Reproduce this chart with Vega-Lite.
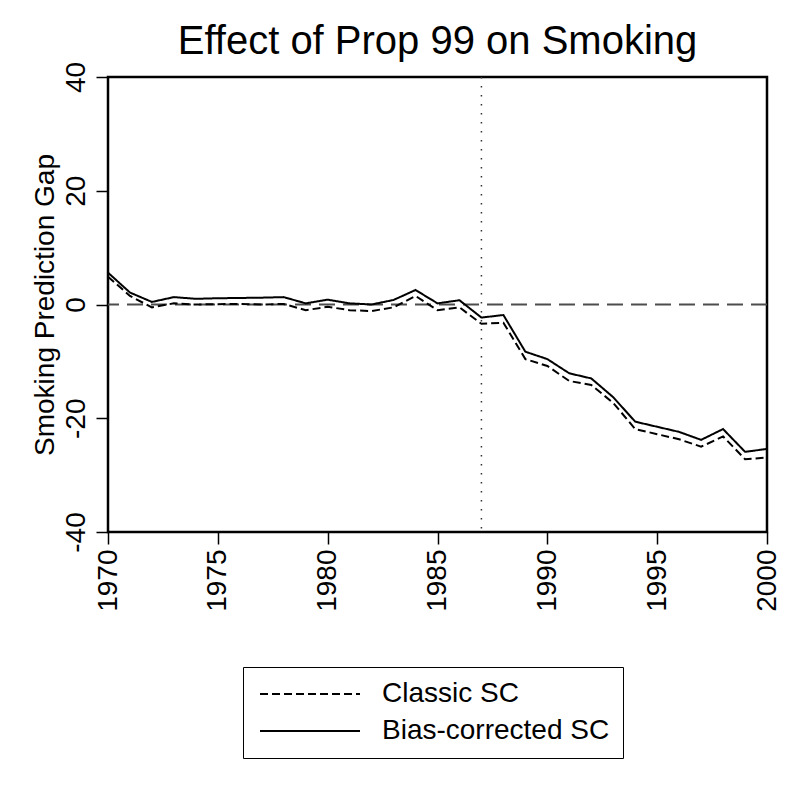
{
  "$schema": "https://vega.github.io/schema/vega-lite/v6.json",
  "autosize": "none",
  "width": 659,
  "height": 455,
  "padding": {"left": 108, "top": 77, "right": 29, "bottom": 264},
  "background": "white",
  "title": {
    "text": "Effect of Prop 99 on Smoking",
    "anchor": "middle",
    "frame": "group",
    "fontSize": 40,
    "fontWeight": "normal",
    "font": "Liberation Sans",
    "color": "black",
    "baseline": "alphabetic",
    "offset": -33
  },
  "config": {
    "font": "Liberation Sans",
    "view": {"stroke": "black", "strokeWidth": 2.5},
    "axis": {
      "grid": false,
      "domain": false,
      "tickColor": "black",
      "tickSize": 12,
      "tickWidth": 1.5,
      "labelFontSize": 28,
      "labelColor": "black",
      "titleFontSize": 28,
      "titleFontWeight": "normal",
      "titleColor": "black"
    }
  },
  "datasets": {
    "gaps": [
      {"year": 1970, "method": "Classic SC", "gap": 4.9},
      {"year": 1971, "method": "Classic SC", "gap": 1.5},
      {"year": 1972, "method": "Classic SC", "gap": -0.5},
      {"year": 1973, "method": "Classic SC", "gap": 0.2},
      {"year": 1974, "method": "Classic SC", "gap": 0.0},
      {"year": 1975, "method": "Classic SC", "gap": 0.05},
      {"year": 1976, "method": "Classic SC", "gap": 0.1},
      {"year": 1977, "method": "Classic SC", "gap": 0.0},
      {"year": 1978, "method": "Classic SC", "gap": 0.1},
      {"year": 1979, "method": "Classic SC", "gap": -1.0},
      {"year": 1980, "method": "Classic SC", "gap": -0.4},
      {"year": 1981, "method": "Classic SC", "gap": -1.0},
      {"year": 1982, "method": "Classic SC", "gap": -1.15},
      {"year": 1983, "method": "Classic SC", "gap": -0.5},
      {"year": 1984, "method": "Classic SC", "gap": 1.5},
      {"year": 1985, "method": "Classic SC", "gap": -1.0},
      {"year": 1986, "method": "Classic SC", "gap": -0.5},
      {"year": 1987, "method": "Classic SC", "gap": -3.4},
      {"year": 1988, "method": "Classic SC", "gap": -3.2},
      {"year": 1989, "method": "Classic SC", "gap": -9.6},
      {"year": 1990, "method": "Classic SC", "gap": -10.8},
      {"year": 1991, "method": "Classic SC", "gap": -13.45},
      {"year": 1992, "method": "Classic SC", "gap": -14.15},
      {"year": 1993, "method": "Classic SC", "gap": -17.3},
      {"year": 1994, "method": "Classic SC", "gap": -21.9},
      {"year": 1995, "method": "Classic SC", "gap": -22.8},
      {"year": 1996, "method": "Classic SC", "gap": -23.7},
      {"year": 1997, "method": "Classic SC", "gap": -25.0},
      {"year": 1998, "method": "Classic SC", "gap": -23.2},
      {"year": 1999, "method": "Classic SC", "gap": -27.2},
      {"year": 2000, "method": "Classic SC", "gap": -26.9},
      {"year": 1970, "method": "Bias-corrected SC", "gap": 5.6},
      {"year": 1971, "method": "Bias-corrected SC", "gap": 2.1},
      {"year": 1972, "method": "Bias-corrected SC", "gap": 0.45},
      {"year": 1973, "method": "Bias-corrected SC", "gap": 1.3},
      {"year": 1974, "method": "Bias-corrected SC", "gap": 1.0},
      {"year": 1975, "method": "Bias-corrected SC", "gap": 1.1},
      {"year": 1976, "method": "Bias-corrected SC", "gap": 1.15},
      {"year": 1977, "method": "Bias-corrected SC", "gap": 1.2},
      {"year": 1978, "method": "Bias-corrected SC", "gap": 1.3},
      {"year": 1979, "method": "Bias-corrected SC", "gap": 0.2},
      {"year": 1980, "method": "Bias-corrected SC", "gap": 0.85},
      {"year": 1981, "method": "Bias-corrected SC", "gap": 0.2},
      {"year": 1982, "method": "Bias-corrected SC", "gap": 0.0},
      {"year": 1983, "method": "Bias-corrected SC", "gap": 0.8},
      {"year": 1984, "method": "Bias-corrected SC", "gap": 2.55},
      {"year": 1985, "method": "Bias-corrected SC", "gap": 0.2},
      {"year": 1986, "method": "Bias-corrected SC", "gap": 0.75},
      {"year": 1987, "method": "Bias-corrected SC", "gap": -2.3},
      {"year": 1988, "method": "Bias-corrected SC", "gap": -1.85},
      {"year": 1989, "method": "Bias-corrected SC", "gap": -8.3},
      {"year": 1990, "method": "Bias-corrected SC", "gap": -9.6},
      {"year": 1991, "method": "Bias-corrected SC", "gap": -12.1},
      {"year": 1992, "method": "Bias-corrected SC", "gap": -13.0},
      {"year": 1993, "method": "Bias-corrected SC", "gap": -16.3},
      {"year": 1994, "method": "Bias-corrected SC", "gap": -20.6},
      {"year": 1995, "method": "Bias-corrected SC", "gap": -21.5},
      {"year": 1996, "method": "Bias-corrected SC", "gap": -22.4},
      {"year": 1997, "method": "Bias-corrected SC", "gap": -23.8},
      {"year": 1998, "method": "Bias-corrected SC", "gap": -21.9},
      {"year": 1999, "method": "Bias-corrected SC", "gap": -25.9},
      {"year": 2000, "method": "Bias-corrected SC", "gap": -25.4}
    ],
    "treatment": [{"year": 1987}],
    "zero": [{"gap": 0}]
  },
  "layer": [
    {
      "data": {"name": "zero"},
      "mark": {"type": "rule", "color": "#4d4d4d", "strokeWidth": 2, "strokeDash": [16, 8]},
      "encoding": {
        "y": {"field": "gap", "type": "quantitative", "scale": {"domain": [-40, 40], "nice": false, "zero": false}}
      }
    },
    {
      "data": {"name": "treatment"},
      "mark": {"type": "rule", "color": "#333333", "strokeWidth": 1.5, "strokeDash": [1.5, 7.5]},
      "encoding": {
        "x": {"field": "year", "type": "quantitative", "scale": {"domain": [1970, 2000], "nice": false, "zero": false}}
      }
    },
    {
      "data": {"name": "gaps"},
      "mark": {"type": "line", "color": "black", "strokeWidth": 2},
      "encoding": {
        "x": {
          "field": "year",
          "type": "quantitative",
          "title": null,
          "scale": {"domain": [1970, 2000], "nice": false, "zero": false},
          "axis": {
            "values": [1970, 1975, 1980, 1985, 1990, 1995, 2000],
            "labelExpr": "'' + datum.value",
            "labelAngle": -90,
            "labelAlign": "right",
            "labelBaseline": "middle",
            "labelPadding": 5,
            "labelFlush": false,
            "labelOverlap": false
          }
        },
        "y": {
          "field": "gap",
          "type": "quantitative",
          "title": "Smoking Prediction Gap",
          "scale": {"domain": [-40, 40], "nice": false, "zero": false},
          "axis": {
            "values": [-40, -20, 0, 20, 40],
            "labelExpr": "'' + datum.value",
            "labelAngle": -90,
            "labelAlign": "center",
            "labelBaseline": "bottom",
            "labelPadding": 6,
            "labelFlush": false,
            "labelOverlap": false,
            "titlePadding": 3
          }
        },
        "strokeDash": {
          "field": "method",
          "type": "nominal",
          "scale": {
            "domain": ["Classic SC", "Bias-corrected SC"],
            "range": [[8, 4], [1, 0]]
          },
          "legend": {
            "title": null,
            "orient": "none",
            "legendX": 135,
            "legendY": 590,
            "direction": "vertical",
            "strokeColor": "black",
            "padding": 13,
            "symbolType": "M-1,0H9",
            "symbolSize": 400,
            "symbolStrokeColor": "black",
            "symbolStrokeWidth": 2,
            "labelFontSize": 28,
            "labelColor": "black",
            "labelOffset": 98,
            "labelLimit": 400,
            "labelExpr": "datum.label + '\u2003'",
            "rowPadding": 9
          }
        }
      }
    }
  ]
}
